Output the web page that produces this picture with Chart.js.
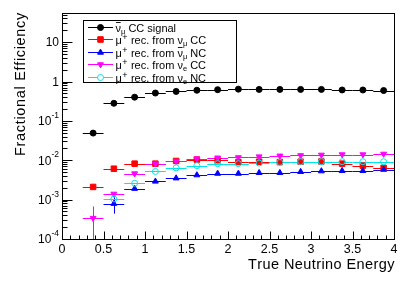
<!DOCTYPE html>
<html>
<head>
<meta charset="utf-8">
<script src="https://cdn.jsdelivr.net/npm/chart.js@4.4.1/dist/chart.umd.min.js"></script>
<style>
html,body{margin:0;padding:0;background:#fff;}
#wrap{width:415px;height:281px;position:relative;}
</style>
</head>
<body>
<div id="wrap"><canvas id="c" width="415" height="281"></canvas></div>
<script>
// ---- data ----
const energyBins = [0.375, 0.625, 0.875, 1.125, 1.375, 1.625, 1.875, 2.125, 2.375, 2.625, 2.875, 3.125, 3.375, 3.625, 3.875];
const binHalfWidth = 0.125;
const signalCC   = [0.049, 0.28, 0.40, 0.51, 0.56, 0.60, 0.62, 0.64, 0.63, 0.63, 0.63, 0.63, 0.61, 0.61, 0.59];
const numuCC     = [0.0021, 0.0061, 0.0082, 0.0082, 0.0096, 0.0104, 0.0100, 0.0090, 0.0092, 0.0090, 0.0092, 0.0093, 0.0082, 0.0073, 0.0064];
const numubarNC  = [null, 0.00079, 0.0019, 0.0029, 0.0035, 0.0042, 0.0046, 0.0046, 0.0048, 0.0048, 0.0051, 0.0053, 0.0054, 0.0054, 0.0058];
const numubarNCErr = [0, 0.00035, 0, 0, 0, 0, 0, 0, 0, 0, 0, 0, 0, 0, 0];
const nueCC      = [0.00034, 0.0014, 0.0046, 0.0082, 0.0095, 0.0110, 0.0116, 0.0118, 0.0124, 0.0130, 0.0133, 0.0137, 0.0140, 0.0140, 0.0145];
const nueCCErr   = [0.00033, 0.00012, 0, 0, 0, 0, 0, 0, 0, 0, 0, 0, 0, 0, 0];
const nueNC      = [null, 0.00104, 0.0026, 0.0052, 0.0064, 0.0073, 0.0082, 0.0082, 0.0085, 0.0088, 0.0092, 0.0092, 0.0092, 0.0092, 0.0092];
const xTickLabels = ['0', '0.5', '1', '1.5', '2', '2.5', '3', '3.5', '4'];
const yDecades = [-4, -3, -2, -1, 0, 1];
const xTitle = 'True Neutrino Energy';
const yTitle = 'Fractional Efficiency';
const legendLabels = [
  {mu:false, pre:'', nu:'ν', bar:true, sub:'μ', post:' CC signal'},
  {mu:true, pre:' rec. from ', nu:'ν', bar:false, sub:'μ', post:' CC'},
  {mu:true, pre:' rec. from ', nu:'ν', bar:true, sub:'μ', post:' NC'},
  {mu:true, pre:' rec. from ', nu:'ν', bar:false, sub:'e', post:' CC'},
  {mu:true, pre:' rec. from ', nu:'ν', bar:false, sub:'e', post:' NC'}
];

const FONT = '"Liberation Sans", Arial, Helvetica, sans-serif';

function pts(vals, errs){
  const out = [];
  vals.forEach((v,i)=>{ if(v!==null) out.push({x:energyBins[i], y:v, ex:binHalfWidth, ey: errs? errs[i] : 0}); });
  return out;
}

const seriesDefs = [
  {vals:signalCC, errs:null, color:'#000000', style:'circle', radius:3, rot:0, fill:true},
  {vals:numuCC, errs:null, color:'#ff0000', style:'rect', radius:3.9, rot:0, fill:true},
  {vals:numubarNC, errs:numubarNCErr, color:'#0000ff', style:'triangle', radius:3.4, rot:0, fill:true},
  {vals:nueCC, errs:nueCCErr, color:'#ff00ff', style:'triangle', radius:3.4, rot:180, fill:true},
  {vals:nueNC, errs:null, color:'#00e6e6', style:'circle', radius:3, rot:0, fill:false}
];

const datasets = seriesDefs.map((s,i)=>({
  data: pts(s.vals, s.errs),
  showLine:false,
  pointStyle:s.style,
  pointRadius:s.radius,
  pointRotation:s.rot,
  pointBackgroundColor: s.fill ? s.color : 'rgba(0,0,0,0)',
  pointBorderColor:s.color,
  pointBorderWidth:1,
  borderColor:s.color,
  order: 4 - i
}));

function spacedText(ctx, text, x, y, target){
  const w = ctx.measureText(text).width;
  const extra = Math.max(0, (target - w) / (text.length - 1));
  let cx = x - Math.max(target, w);
  ctx.textAlign = 'left';
  for(const ch of text){
    ctx.fillText(ch, cx, y);
    cx += ctx.measureText(ch).width + extra;
  }
}

const rootPlugin = {
  id:'rootStyle',
  beforeDatasetsDraw(chart){
    const ctx = chart.ctx, xs = chart.scales.x, ys = chart.scales.y, a = chart.chartArea;
    ctx.save();
    ctx.beginPath(); ctx.rect(a.left, a.top, a.right-a.left, a.bottom-a.top); ctx.clip();
    chart.data.datasets.forEach(ds=>{
      ctx.strokeStyle = ds.borderColor; ctx.lineWidth = 1;
      ds.data.forEach(p=>{
        const px = xs.getPixelForValue(p.x), py = ys.getPixelForValue(p.y);
        const x0 = xs.getPixelForValue(p.x - p.ex), x1 = xs.getPixelForValue(p.x + p.ex);
        ctx.beginPath(); ctx.moveTo(x0, Math.round(py)+0.5); ctx.lineTo(x1, Math.round(py)+0.5); ctx.stroke();
        if(p.ey > 0){
          const lo = Math.max(p.y - p.ey, 1e-7);
          const y0 = ys.getPixelForValue(lo), y1 = ys.getPixelForValue(p.y + p.ey);
          ctx.beginPath(); ctx.moveTo(Math.round(px)+0.5, y0); ctx.lineTo(Math.round(px)+0.5, y1); ctx.stroke();
        }
      });
    });
    ctx.restore();
  },
  afterDraw(chart){
    const ctx = chart.ctx, xs = chart.scales.x, ys = chart.scales.y, a = chart.chartArea;
    ctx.save();
    ctx.strokeStyle = '#000'; ctx.lineWidth = 1;
    ctx.strokeRect(Math.round(a.left)+0.5, Math.round(a.top)+0.5, Math.round(a.right-a.left), Math.round(a.bottom-a.top));
    const L = Math.round(a.left)+0.5;
    for(let d=-4; d<=1; d++){
      for(let k=1; k<=9; k++){
        const v = k*Math.pow(10,d);
        if(v < ys.min || v > ys.max) continue;
        const y = Math.round(ys.getPixelForValue(v))+0.5;
        const len = k===1 ? 10 : 5;
        ctx.beginPath(); ctx.moveTo(L, y); ctx.lineTo(L+len, y); ctx.stroke();
      }
    }
    const B = Math.round(a.bottom)+0.5;
    for(let i=0;i<=40;i++){
      const v = i/10;
      const x = Math.round(xs.getPixelForValue(v))+0.5;
      const len = (i%5===0) ? 8 : 4;
      ctx.beginPath(); ctx.moveTo(x, B); ctx.lineTo(x, B-len); ctx.stroke();
    }
    ctx.fillStyle = '#000';
    ctx.textBaseline = 'alphabetic';
    yDecades.forEach(d=>{
      const y = ys.getPixelForValue(Math.pow(10,d));
      const right = 59;
      if(d===0 || d===1){
        ctx.font = '12px '+FONT; ctx.textAlign='right';
        ctx.fillText(d===0?'1':'10', right, y+4.3);
      } else {
        const sup = String(d);
        ctx.font = '8.5px '+FONT; ctx.textAlign='left';
        const sw = ctx.measureText(sup).width;
        ctx.fillText(sup, right - sw, y-3);
        ctx.font = '12px '+FONT; ctx.textAlign='right';
        ctx.fillText('10', right - sw, y+4.3);
      }
    });
    // axis titles
    ctx.font = '14.5px '+FONT;
    spacedText(ctx, xTitle, 394, 269, 146);
    ctx.save();
    ctx.translate(25, 13); ctx.rotate(-Math.PI/2);
    spacedText(ctx, yTitle, 0, 0, 143);
    ctx.restore();
    // legend
    const lx = 83, ly = 20, lw = 153, lh = 62;
    ctx.fillStyle = '#fff'; ctx.fillRect(lx, ly, lw, lh);
    ctx.strokeStyle = '#000'; ctx.lineWidth = 1; ctx.strokeRect(lx+0.5, ly+0.5, lw, lh);
    seriesDefs.forEach((s,i)=>{
      const cy = Math.round(26.5 + i*12.6)+0.5;
      ctx.strokeStyle = s.color; ctx.lineWidth = 1;
      ctx.beginPath(); ctx.moveTo(88, cy); ctx.lineTo(113, cy); ctx.stroke();
      ctx.fillStyle = s.fill ? s.color : '#fff'; ctx.strokeStyle = s.color;
      Chart.helpers.drawPoint(ctx, {pointStyle:s.style, radius:s.radius, rotation:s.rot, borderWidth:1}, 100.5, cy);
      const lab = legendLabels[i];
      let tx = 115.5; const base = cy + 4;
      ctx.fillStyle = '#000'; ctx.textAlign = 'left';
      ctx.font = '11px '+FONT;
      if(lab.mu){
        ctx.fillText('μ', tx, base); tx += ctx.measureText('μ').width + 0.3;
        ctx.font = '9px '+FONT;
        ctx.fillText('+', tx, base-4); tx += ctx.measureText('+').width + 0.5;
        ctx.font = '11px '+FONT;
      }
      if(lab.pre){ ctx.fillText(lab.pre, tx, base); tx += ctx.measureText(lab.pre).width; }
      ctx.fillText(lab.nu, tx, base);
      const nw = ctx.measureText(lab.nu).width;
      if(lab.bar){
        ctx.strokeStyle = '#000'; ctx.lineWidth = 0.9;
        ctx.beginPath(); ctx.moveTo(tx+0.5, base-9); ctx.lineTo(tx+nw-0.3, base-9); ctx.stroke();
      }
      tx += nw;
      ctx.font = '7.5px '+FONT;
      ctx.fillText(lab.sub, tx, base+2.5);
      tx += ctx.measureText(lab.sub).width;
      ctx.font = '11px '+FONT;
      ctx.fillText(lab.post, tx, base);
    });
    ctx.restore();
  }
};

new Chart(document.getElementById('c'), {
  type:'scatter',
  data:{datasets},
  options:{
    responsive:false,
    animation:false,
    devicePixelRatio:1,
    layout:{padding:{left:0, right:21, top:13, bottom:0}},
    plugins:{legend:{display:false}, tooltip:{enabled:false}},
    scales:{
      x:{
        type:'linear', min:0, max:4,
        grid:{display:false, drawTicks:false},
        border:{display:false},
        ticks:{stepSize:0.5, padding:3, color:'#000', font:{family:FONT, size:12.5},
          callback:(v)=>{ const i = Math.round(v*2); return xTickLabels[i] !== undefined ? xTickLabels[i] : ''; }},
        afterFit:(s)=>{ s.height = 42; }
      },
      y:{
        type:'logarithmic', min:1e-4, max:55,
        grid:{display:false, drawTicks:false},
        border:{display:false},
        ticks:{display:false},
        afterFit:(s)=>{ s.width = 62; }
      }
    }
  },
  plugins:[rootPlugin]
});
</script>
</body>
</html>
